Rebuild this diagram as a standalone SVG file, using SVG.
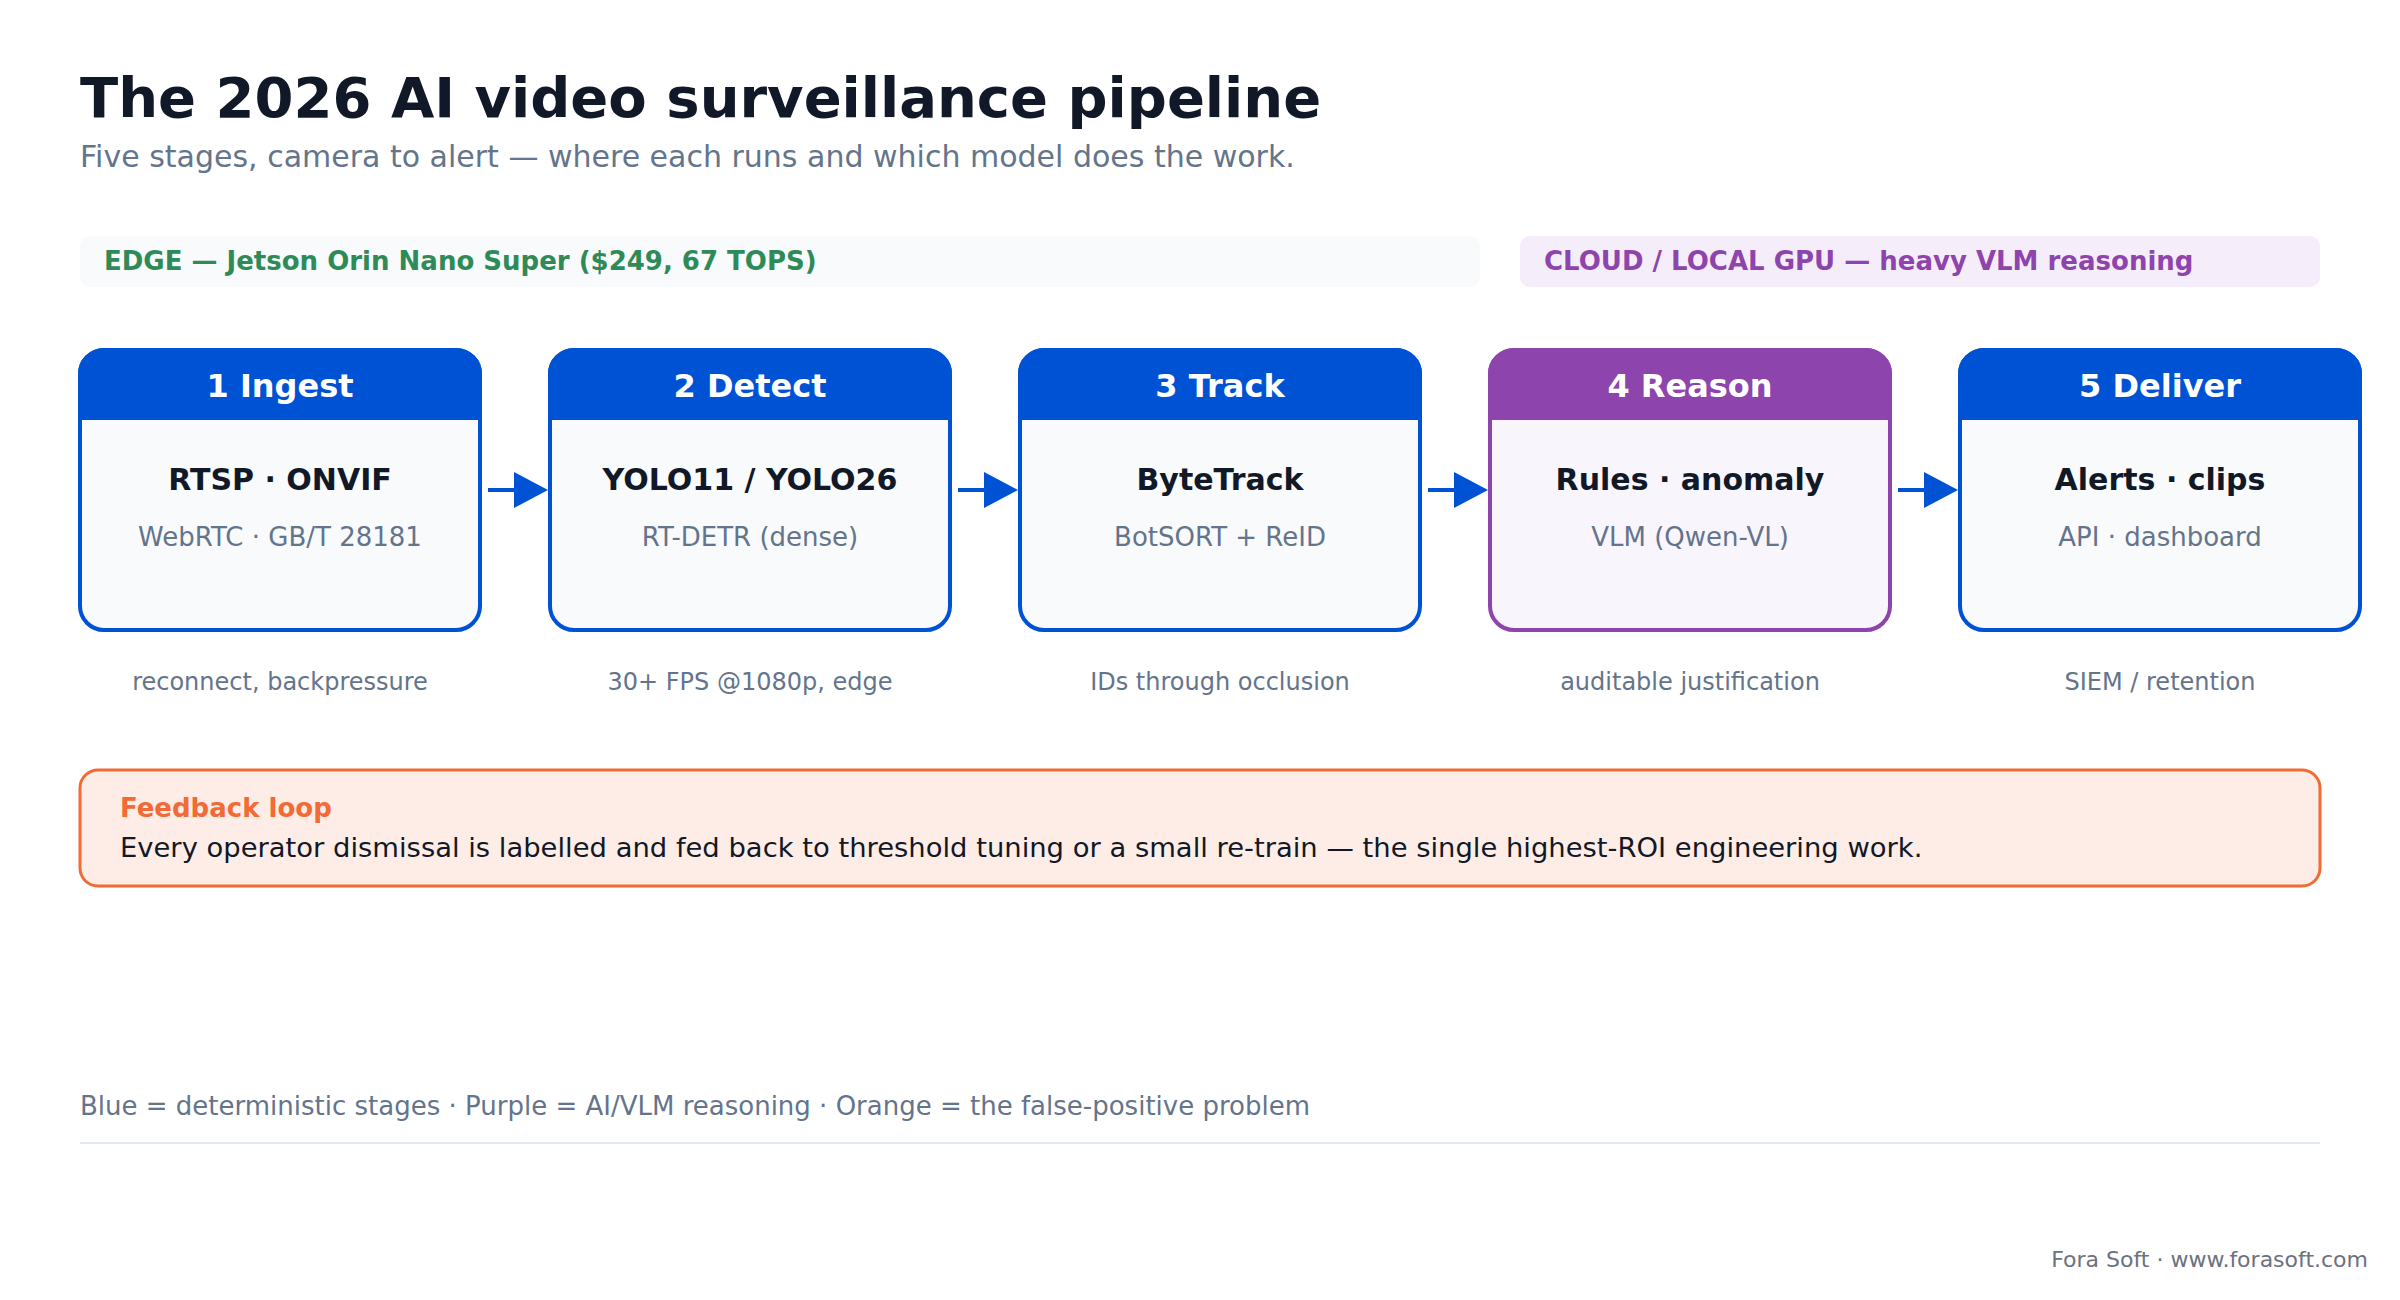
<svg xmlns="http://www.w3.org/2000/svg" width="2400" height="1300" viewBox="0 0 2400 1300">
<style>
text{font-family:"DejaVu Sans","Noto Sans",sans-serif}
.title{font-size:56px;font-weight:bold;fill:#111827}
.sub{font-size:30px;fill:#64748b}
.band{font-size:26px;font-weight:bold}
.hdr{font-size:32px;font-weight:bold;fill:#ffffff;text-anchor:middle}
.main{font-size:30px;font-weight:bold;fill:#111827;text-anchor:middle}
.detail{font-size:26px;fill:#64748b;text-anchor:middle}
.cap{font-size:24px;fill:#64748b;text-anchor:middle}
.body-b{fill:#f8fafc;stroke:#0052d4;stroke-width:4}
.head-b{fill:#0052d4;stroke:#0052d4;stroke-width:4}
.body-p{fill:#f9f5fd;stroke:#8e44ad;stroke-width:4}
.head-p{fill:#8e44ad;stroke:#8e44ad;stroke-width:4}
.conn line{stroke:#0052d4;stroke-width:4}
.conn polygon{fill:#0052d4}
</style>
<rect width="2400" height="1300" fill="#ffffff"/>
<text class="title" x="80" y="117">The 2026 AI video surveillance pipeline</text>
<text class="sub" x="80" y="167">Five stages, camera to alert — where each runs and which model does the work.</text>

<g id="band-edge">
<rect x="80" y="236" width="1400" height="51" rx="10" fill="#f8fafc"/>
<text class="band" x="104" y="270" fill="#2e8b57">EDGE — Jetson Orin Nano Super ($249, 67 TOPS)</text>
</g>
<g id="band-cloud">
<rect x="1520" y="236" width="800" height="51" rx="10" fill="#f5eefa"/>
<text class="band" x="1544" y="270" fill="#8e44ad">CLOUD / LOCAL GPU — heavy VLM reasoning</text>
</g>

<g id="node-ingest">
<rect class="body-b" x="80" y="350" width="400" height="280" rx="24"/>
<path class="head-b" d="M80,418 V374 A24,24 0 0 1 104,350 H456 A24,24 0 0 1 480,374 V418 Z"/>
<text class="hdr" x="280" y="397">1 Ingest</text>
<text class="main" x="280" y="490">RTSP · ONVIF</text>
<text class="detail" x="280" y="546">WebRTC · GB/T 28181</text>
<text class="cap" x="280" y="690">reconnect, backpressure</text>
</g>
<g id="node-detect">
<rect class="body-b" x="550" y="350" width="400" height="280" rx="24"/>
<path class="head-b" d="M550,418 V374 A24,24 0 0 1 574,350 H926 A24,24 0 0 1 950,374 V418 Z"/>
<text class="hdr" x="750" y="397">2 Detect</text>
<text class="main" x="750" y="490">YOLO11 / YOLO26</text>
<text class="detail" x="750" y="546">RT-DETR (dense)</text>
<text class="cap" x="750" y="690">30+ FPS @1080p, edge</text>
</g>
<g id="node-track">
<rect class="body-b" x="1020" y="350" width="400" height="280" rx="24"/>
<path class="head-b" d="M1020,418 V374 A24,24 0 0 1 1044,350 H1396 A24,24 0 0 1 1420,374 V418 Z"/>
<text class="hdr" x="1220" y="397">3 Track</text>
<text class="main" x="1220" y="490">ByteTrack</text>
<text class="detail" x="1220" y="546">BotSORT + ReID</text>
<text class="cap" x="1220" y="690">IDs through occlusion</text>
</g>
<g id="node-reason">
<rect class="body-p" x="1490" y="350" width="400" height="280" rx="24"/>
<path class="head-p" d="M1490,418 V374 A24,24 0 0 1 1514,350 H1866 A24,24 0 0 1 1890,374 V418 Z"/>
<text class="hdr" x="1690" y="397">4 Reason</text>
<text class="main" x="1690" y="490">Rules · anomaly</text>
<text class="detail" x="1690" y="546">VLM (Qwen-VL)</text>
<text class="cap" x="1690" y="690">auditable justification</text>
</g>
<g id="node-deliver">
<rect class="body-b" x="1960" y="350" width="400" height="280" rx="24"/>
<path class="head-b" d="M1960,418 V374 A24,24 0 0 1 1984,350 H2336 A24,24 0 0 1 2360,374 V418 Z"/>
<text class="hdr" x="2160" y="397">5 Deliver</text>
<text class="main" x="2160" y="490">Alerts · clips</text>
<text class="detail" x="2160" y="546">API · dashboard</text>
<text class="cap" x="2160" y="690">SIEM / retention</text>
</g>

<g id="connectors" class="conn">
<line x1="488" y1="490" x2="516" y2="490"/><polygon points="514,472 548,490 514,508"/>
<line x1="958" y1="490" x2="986" y2="490"/><polygon points="984,472 1018,490 984,508"/>
<line x1="1428" y1="490" x2="1456" y2="490"/><polygon points="1454,472 1488,490 1454,508"/>
<line x1="1898" y1="490" x2="1926" y2="490"/><polygon points="1924,472 1958,490 1924,508"/>
</g>

<g id="feedback">
<rect x="80" y="770" width="2240" height="116" rx="18" fill="#fdede6" stroke="#f26a35" stroke-width="3"/>
<text x="120" y="817" font-size="26" font-weight="bold" fill="#f26a35">Feedback loop</text>
<text x="120" y="857" font-size="27.4" fill="#111827">Every operator dismissal is labelled and fed back to threshold tuning or a small re-train — the single highest-ROI engineering work.</text>
</g>

<text x="80" y="1115" font-size="26" fill="#64748b">Blue = deterministic stages · Purple = AI/VLM reasoning · Orange = the false-positive problem</text>
<line x1="80" y1="1143" x2="2320" y2="1143" stroke="#e2e8f0" stroke-width="2"/>
<text x="2368" y="1267" font-size="22" fill="#6b7280" text-anchor="end">Fora Soft · www.forasoft.com</text>
</svg>
